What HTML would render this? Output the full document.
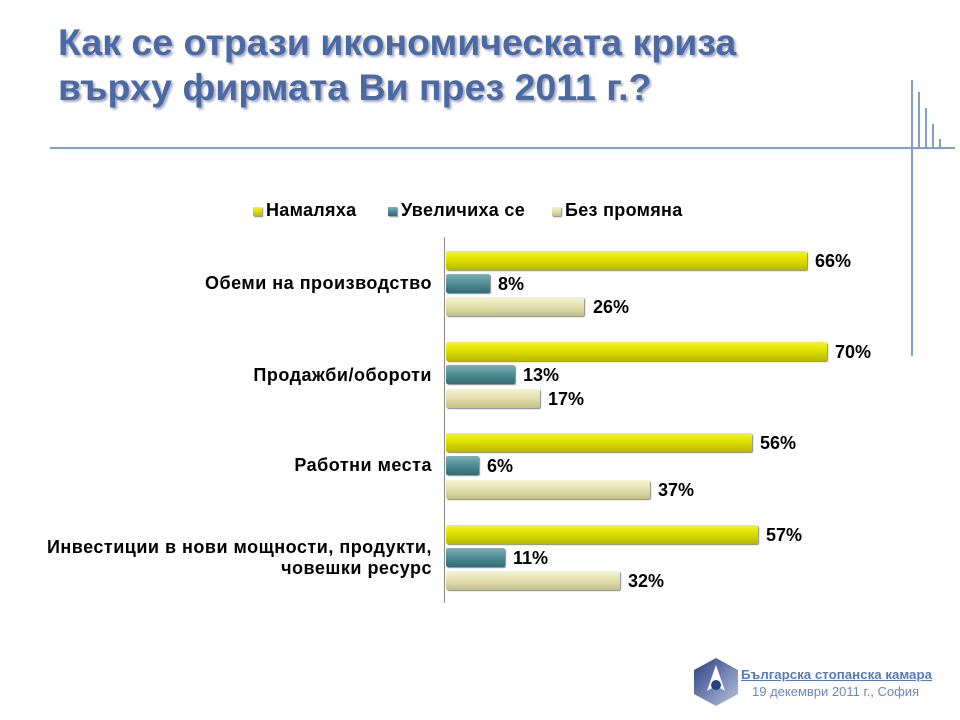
<!DOCTYPE html>
<html><head><meta charset="utf-8"><style>
body{margin:0;width:960px;height:720px;background:#fff;position:relative;overflow:hidden;font-family:"Liberation Sans",sans-serif}
.t{position:absolute;left:58px;top:20px;font-size:37.5px;font-weight:bold;color:#4a6aa5;line-height:45px;text-shadow:2px 2px 2px #aab;white-space:nowrap}
.a{position:absolute;background:#7f9fd0}
.lab{position:absolute;right:528px;font-size:18px;letter-spacing:0.5px;font-weight:bold;text-align:right;line-height:21px;color:#000;white-space:nowrap}
.bar{position:absolute;left:446px;height:19px;border-radius:2px}
.y{background:linear-gradient(#f4f430,#e2e200 40%,#b8b800);box-shadow:1px 1px 1px #888}
.g{background:linear-gradient(#7fb0b8,#4d8c96 50%,#356a72);box-shadow:1px 1px 1px #888}
.b{background:linear-gradient(#f5f3cc,#e2dfae 50%,#c2be88);box-shadow:1px 1px 1px #888}
.v{position:absolute;font-size:18px;font-weight:bold;line-height:19px}
.lg{position:absolute;top:200px;font-size:18px;letter-spacing:0.3px;font-weight:bold;white-space:nowrap}
.sq{display:inline-block;width:9px;height:9px;margin-right:4px}
</style></head><body>
<div class="t">Как се отрази икономическата криза<br>върху фирмата Ви през 2011 г.?</div>
<div class="a" style="left:50px;top:147px;width:905px;height:2px"></div>
<div class="a" style="left:911px;top:80px;width:2px;height:276px"></div>
<div class="a" style="left:918px;top:92px;width:2px;height:56px"></div>
<div class="a" style="left:925px;top:108px;width:2px;height:40px"></div>
<div class="a" style="left:932px;top:124px;width:2px;height:24px"></div>
<div class="a" style="left:939px;top:139px;width:2px;height:9px"></div>
<div class="lg" style="left:253px"><span class="sq y"></span>Намаляха</div>
<div class="lg" style="left:388px"><span class="sq g"></span>Увеличиха се</div>
<div class="lg" style="left:552px"><span class="sq b"></span>Без промяна</div>
<div style="position:absolute;left:444px;top:237px;width:1px;height:366px;background:#888"></div>
<div class="lab" style="top:273px">Обеми на производство</div>
<div class="lab" style="top:365px">Продажби/обороти</div>
<div class="lab" style="top:455px">Работни места</div>
<div class="lab" style="top:537px">Инвестиции в нови мощности, продукти,<br>човешки ресурс</div>

<div class="bar y" style="top:251px;width:361px"></div><div class="v" style="left:815px;top:252px">66%</div>
<div class="bar g" style="top:274px;width:44px"></div><div class="v" style="left:498px;top:275px">8%</div>
<div class="bar b" style="top:297px;width:138px"></div><div class="v" style="left:593px;top:298px">26%</div>

<div class="bar y" style="top:342px;width:381px"></div><div class="v" style="left:835px;top:343px">70%</div>
<div class="bar g" style="top:365px;width:69px"></div><div class="v" style="left:523px;top:366px">13%</div>
<div class="bar b" style="top:389px;width:94px"></div><div class="v" style="left:548px;top:390px">17%</div>

<div class="bar y" style="top:433px;width:306px"></div><div class="v" style="left:760px;top:434px">56%</div>
<div class="bar g" style="top:456px;width:33px"></div><div class="v" style="left:487px;top:457px">6%</div>
<div class="bar b" style="top:480px;width:204px"></div><div class="v" style="left:658px;top:481px">37%</div>

<div class="bar y" style="top:525px;width:312px"></div><div class="v" style="left:766px;top:526px">57%</div>
<div class="bar g" style="top:548px;width:59px"></div><div class="v" style="left:513px;top:549px">11%</div>
<div class="bar b" style="top:571px;width:174px"></div><div class="v" style="left:628px;top:572px">32%</div>

<svg style="position:absolute;left:693px;top:657px" width="46" height="50" viewBox="0 0 46 50">
<defs><linearGradient id="lgr" x1="0" y1="0" x2="1" y2="1"><stop offset="0" stop-color="#2a3f80"/><stop offset="1" stop-color="#b8c4e0"/></linearGradient></defs>
<polygon points="23,1 45,13 45,37 23,49 1,37 1,13" fill="url(#lgr)"/>
<path d="M23,8 L14,34 Q23,27 32,34 Z" fill="#fff"/>
<circle cx="23" cy="28" r="5" fill="#2a3f80"/>
</svg>
<div style="position:absolute;left:741px;top:667px;font-size:13.3px;color:#5a78b8;text-decoration:underline;font-weight:bold;white-space:nowrap">Българска стопанска камара</div>
<div style="position:absolute;left:752px;top:684px;font-size:13px;color:#6a88c0;white-space:nowrap">19 декември 2011 г., София</div>
</body></html>
